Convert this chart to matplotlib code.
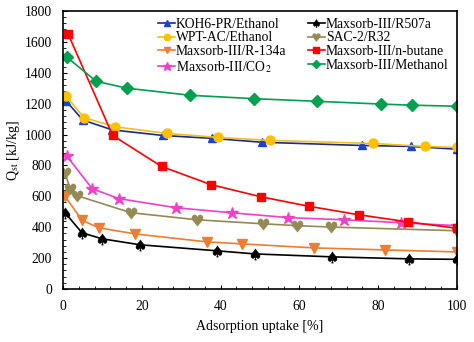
import matplotlib
matplotlib.use("Agg")
import matplotlib.pyplot as plt
from matplotlib.ticker import AutoMinorLocator
from matplotlib.textpath import TextPath
from matplotlib.font_manager import FontProperties
from matplotlib.path import Path

plt.rcParams["font.family"] = ["Liberation Serif", "DejaVu Serif"]
plt.rcParams["mathtext.fontset"] = "stix"

# uptake [%] and isosteric heat [kJ/kg] per pair
koh_x = [0.7, 5, 12.5, 25.3, 37.9, 50.5, 75.9, 88.3, 100]
koh_y = [1220, 1094, 1030, 994, 975, 950, 929, 923, 905]

wpt_x = [0.7, 5.3, 13.2, 26.4, 39.4, 52.5, 78.7, 91.9, 100]
wpt_y = [1250, 1110, 1050, 1007, 981, 962, 942, 923, 916]

r134a_x = [0.5, 4.8, 9.1, 18.2, 36.5, 45.5, 63.7, 81.7, 100]
r134a_y = [600, 445, 396, 357, 305, 292, 266, 253, 240]

co2_x = [1, 7.4, 14.2, 28.7, 43, 57.2, 71.3, 85.8, 100]
co2_y = [859, 649, 585, 526, 493, 462, 448, 429, 410]

r507a_x = [0.5, 4.8, 9.9, 19.6, 39.2, 48.7, 68.3, 87.8, 100]
r507a_y = [494, 364, 325, 286, 247, 227, 208, 195, 192]

r32_x = [0.5, 1.8, 3.6, 17.2, 34, 50.8, 59.4, 68, 100]
r32_y = [750, 650, 604, 494, 448, 422, 410, 401, 377]

butane_x = [1.3, 12.6, 25, 37.5, 50.2, 62.5, 75.2, 87.6, 100]
butane_y = [1650, 994, 793, 676, 597, 535, 480, 434, 393]

meoh_x = [1, 8.4, 16.2, 32.3, 48.5, 64.5, 80.7, 88.6, 100]
meoh_y = [1500, 1345, 1300, 1254, 1232, 1215, 1197, 1190, 1183]


def glyph_marker(ch):
    # card-suit glyph turned into a centred marker path
    tp = TextPath((0, 0), ch, size=10, prop=FontProperties(family="DejaVu Sans"))
    v = tp.vertices.copy()
    ext = tp.get_extents()
    v[:, 0] -= (ext.x0 + ext.x1) / 2
    v[:, 1] -= (ext.y0 + ext.y1) / 2
    return Path(v, tp.codes)


spade = glyph_marker("♠")
heart = glyph_marker("♥")

fig = plt.figure(figsize=(4.74, 3.42), dpi=100)
ax = fig.add_axes([0.133, 0.155, 0.831, 0.813])

lw = 1.2
ax.plot(koh_x, koh_y, color="#1a2a8c", lw=lw, marker="^", ms=6,
        mfc="#2040d0", mec="#2040d0", label="KOH6-PR/Ethanol")
ax.plot(wpt_x, wpt_y, color="#f0c020", lw=lw, marker="o", ms=6.5,
        mfc="#ffc000", mec="#ffc000", label="WPT-AC/Ethanol")
ax.plot(r134a_x, r134a_y, color="#ed7d31", lw=lw, marker="v", ms=6.5,
        label="Maxsorb-III/R-134a")
ax.plot(co2_x, co2_y, color="#f040c8", lw=lw, marker="*", ms=9,
        label="Maxsorb-III/CO$_2$")
ax.plot(r507a_x, r507a_y, color="black", lw=lw, marker=spade, ms=10,
        mew=0.3, label="Maxsorb-III/R507a")
ax.plot(r32_x, r32_y, color="#948a54", lw=lw, marker=heart, ms=10,
        mew=0.3, label="SAC-2/R32")
ax.plot(butane_x, butane_y, color="#ff0000", lw=lw, marker="s", ms=6,
        label="Maxsorb-III/n-butane")
ax.plot(meoh_x, meoh_y, color="#00a050", lw=lw, marker="D", ms=6,
        label="Maxsorb-III/Methanol")

ax.set_xlim(0, 100)
ax.set_ylim(0, 1800)
ax.set_xticks(range(0, 101, 20))
ax.set_yticks(range(0, 1801, 200))
ax.xaxis.set_minor_locator(AutoMinorLocator(5))
ax.yaxis.set_minor_locator(AutoMinorLocator(5))
ax.tick_params(which="both", direction="in", labelsize=9.8, pad=8)
ax.tick_params(which="major", length=3)
ax.tick_params(which="minor", length=2)
for s in ax.spines.values():
    s.set_linewidth(1.2)

ax.set_xlabel("Adsorption uptake [%]", fontsize=10, labelpad=5)
ax.set_ylabel("Q$_{\\mathrm{st}}$ [kJ/kg]", fontsize=10, labelpad=2)

ax.legend(loc="upper right", ncol=2, frameon=False, fontsize=9.8,
          handlelength=1.2, handletextpad=0.1, columnspacing=1.6,
          labelspacing=0.05, markerscale=0.7,
          bbox_to_anchor=(1.0, 1.005), borderaxespad=0.2)

fig.savefig("out.png", dpi=100)
